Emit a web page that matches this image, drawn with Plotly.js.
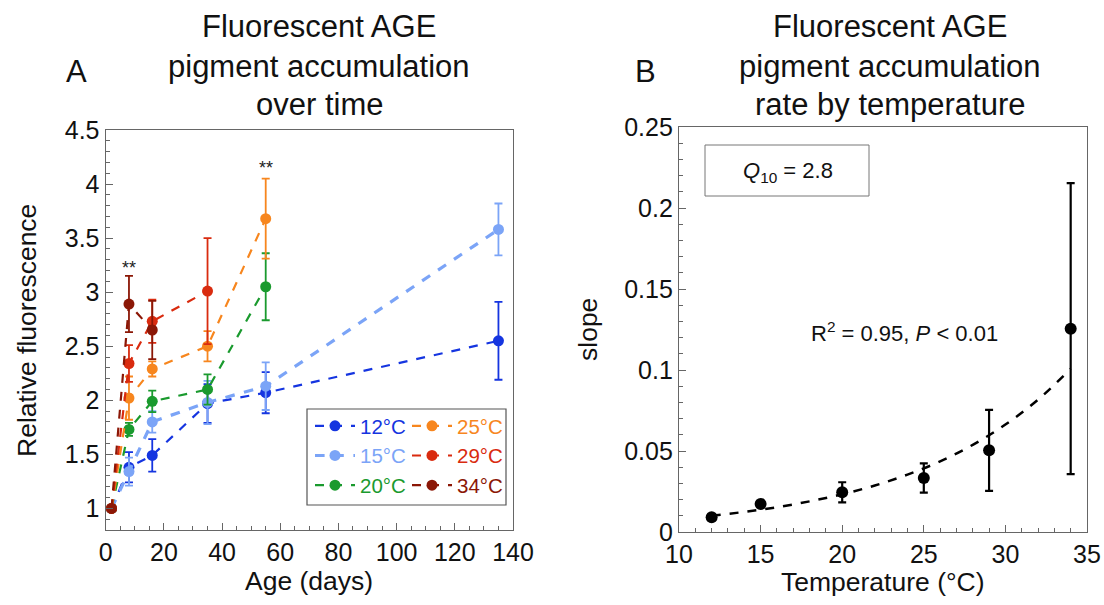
<!DOCTYPE html>
<html>
<head>
<meta charset="utf-8">
<script src="https://cdn.plot.ly/plotly-3.0.1.min.js"></script>
<style>html,body{margin:0;padding:0;background:#fff;}#chart{width:1104px;height:605px;}</style>
</head>
<body>
<div id="chart"></div>
<script>
// ---- Panel A data ----
const seriesNames = ["12°C", "15°C", "20°C", "25°C", "29°C", "34°C"];
const seriesColors = ["#1535e0", "#7ba4f7", "#1a9a2e", "#f7861e", "#d92b0f", "#8b1706"];
const days12 = [2, 8, 16, 35, 55, 135];
const vals12 = [1.0, 1.38, 1.49, 1.97, 2.07, 2.55];
const err12 = [0, 0.14, 0.15, 0.18, 0.19, 0.36];
const days15 = [2, 8, 16, 35, 55, 135];
const vals15 = [1.0, 1.34, 1.80, 1.98, 2.13, 3.58];
const err15 = [0, 0.13, 0.10, 0.20, 0.22, 0.24];
const days20 = [2, 8, 16, 35, 55];
const vals20 = [1.0, 1.73, 1.99, 2.10, 3.05];
const err20 = [0, 0.06, 0.10, 0.14, 0.31];
const days25 = [2, 8, 16, 35, 55];
const vals25 = [1.0, 2.02, 2.29, 2.50, 3.68];
const err25 = [0, 0.20, 0.07, 0.14, 0.37];
const days29 = [2, 8, 16, 35];
const vals29 = [1.0, 2.34, 2.73, 3.01];
const err29 = [0, 0.17, 0.20, 0.49];
const days34 = [2, 8, 16];
const vals34 = [1.0, 2.89, 2.65];
const err34 = [0, 0.26, 0.27];
const sigDays = [8, 55];
const sigY = [3.22, 4.15];
const sigText = ["**", "**"];

// ---- Panel B data ----
const temps = [12, 15, 20, 25, 29, 34];
const slopes = [0.0091, 0.0173, 0.0245, 0.0333, 0.0504, 0.1255];
const slopeErr = [0.0, 0.0, 0.0062, 0.0090, 0.0250, 0.0898];
const fitTemps = [12, 14, 16, 18, 20, 22, 24, 26, 28, 30, 32, 34];
const fitVals = [0.0101, 0.0124, 0.0153, 0.0189, 0.0233, 0.0287, 0.0354, 0.0436, 0.0538, 0.0663, 0.0817, 0.1007];

const W = 1104, H = 605;
const px = x => x / W;
const py = y => 1 - y / H;
const FONT = "Liberation Sans, Arial, sans-serif";

const groups = [
  [days12, vals12, err12], [days15, vals15, err15], [days20, vals20, err20],
  [days25, vals25, err25], [days29, vals29, err29], [days34, vals34, err34]
];
const widths = [2.2, 3.2, 2.2, 2.2, 2.2, 2.2];

const traces = groups.map((g, i) => ({
  type: "scatter", mode: "lines+markers",
  x: g[0], y: g[1],
  error_y: {type: "data", array: g[2], visible: true, color: seriesColors[i], thickness: 1.8, width: 4},
  line: {color: seriesColors[i], width: widths[i], dash: "dash"},
  marker: {color: seriesColors[i], size: 11},
  name: '<span style="color:' + seriesColors[i] + '">' + seriesNames[i] + '</span>',
  legend: i < 3 ? "legend" : "legend2",
  xaxis: "x", yaxis: "y"
}));

traces.push({
  type: "scatter", mode: "lines", x: fitTemps, y: fitVals, line: {color: "#000", width: 2.5, dash: "dash", shape: "spline"},
  showlegend: false, xaxis: "x2", yaxis: "y2", hoverinfo: "skip"
});
traces.push({
  type: "scatter", mode: "markers", x: temps, y: slopes,
  error_y: {type: "data", array: slopeErr, visible: true, color: "#000", thickness: 2.2, width: 4},
  marker: {color: "#000", size: 12}, showlegend: false, xaxis: "x2", yaxis: "y2"
});

const axisCommon = {
  showline: true, linecolor: "#666", linewidth: 1.2, mirror: true,
  ticks: "inside", ticklen: 7, tickcolor: "#666", tickwidth: 1,
  showgrid: false, zeroline: false,
  tickfont: {family: FONT, size: 25, color: "#111"}
};

const ann = [];
function txt(x, y, text, size, opts) {
  ann.push(Object.assign({xref: "paper", yref: "paper", x: px(x), y: py(y), text: text, showarrow: false,
    font: {family: FONT, size: size, color: "#111"}, xanchor: "center", yanchor: "middle"}, opts || {}));
}
txt(319, 27, "Fluorescent AGE", 31);
txt(319, 66, "pigment accumulation", 31);
txt(319, 105, "over time", 31);
txt(76, 72, "A", 31);
txt(890, 27, "Fluorescent AGE", 31);
txt(890, 66, "pigment accumulation", 31);
txt(890, 105, "rate by temperature", 31);
txt(645, 72, "B", 31);
txt(27, 331, "Relative fluorescence", 26.5, {textangle: -90});
txt(309, 581, "Age (days)", 26.5);
txt(588, 330, "slope", 26.5, {textangle: -90});
txt(883, 582, "Temperature (°C)", 26.5);
txt(788, 172, "<i>Q</i><sub>10</sub> = 2.8", 22);
txt(904, 332, "R<sup>2</sup> = 0.95, <i>P</i> &lt; 0.01", 22);
sigDays.forEach((d, i) => ann.push({xref: "x", yref: "y", x: d, y: sigY[i], text: sigText[i], showarrow: false,
  font: {family: FONT, size: 18, color: "#222"}}));

const legendCommon = {
  bgcolor: "rgba(0,0,0,0)", borderwidth: 0, orientation: "v",
  font: {family: FONT, size: 20.5}, xanchor: "left", yanchor: "top",
  itemclick: false, tracegroupgap: 0, itemwidth: 40
};

const layout = {
  width: W, height: H,
  margin: {l: 0, r: 0, t: 0, b: 0},
  paper_bgcolor: "#fff", plot_bgcolor: "#fff",
  showlegend: true,
  xaxis: Object.assign({}, axisCommon, {domain: [px(105.7), px(513)], range: [0, 140], dtick: 20, tick0: 0,
    minor: {dtick: 5, ticks: "inside", ticklen: 4, tickcolor: "#666"}, anchor: "y"}),
  yaxis: Object.assign({}, axisCommon, {domain: [py(530), py(130)], range: [0.8, 4.5], dtick: 0.5, tick0: 0,
    minor: {dtick: 0.1, ticks: "inside", ticklen: 4, tickcolor: "#666"}, anchor: "x"}),
  xaxis2: Object.assign({}, axisCommon, {domain: [px(679), px(1087)], range: [10, 35], dtick: 5, tick0: 0,
    minor: {dtick: 1, ticks: "inside", ticklen: 4, tickcolor: "#666"}, anchor: "y2"}),
  yaxis2: Object.assign({}, axisCommon, {domain: [py(532), py(127)], range: [0, 0.25], dtick: 0.05, tick0: 0,
    minor: {dtick: 0.01, ticks: "inside", ticklen: 4, tickcolor: "#666"}, anchor: "x2"}),
  legend: Object.assign({}, legendCommon, {x: px(310), y: py(406)}),
  legend2: Object.assign({}, legendCommon, {x: px(407), y: py(406)}),
  shapes: [
    {type: "rect", xref: "paper", yref: "paper", x0: px(307), x1: px(506), y0: py(505), y1: py(409),
      line: {color: "#555", width: 1.2}},
    {type: "rect", xref: "paper", yref: "paper", x0: px(705), x1: px(869), y0: py(196), y1: py(145),
      line: {color: "#777", width: 1}}
  ],
  annotations: ann
};

Plotly.newPlot("chart", traces, layout, {displayModeBar: false, staticPlot: true});
</script>
</body>
</html>
